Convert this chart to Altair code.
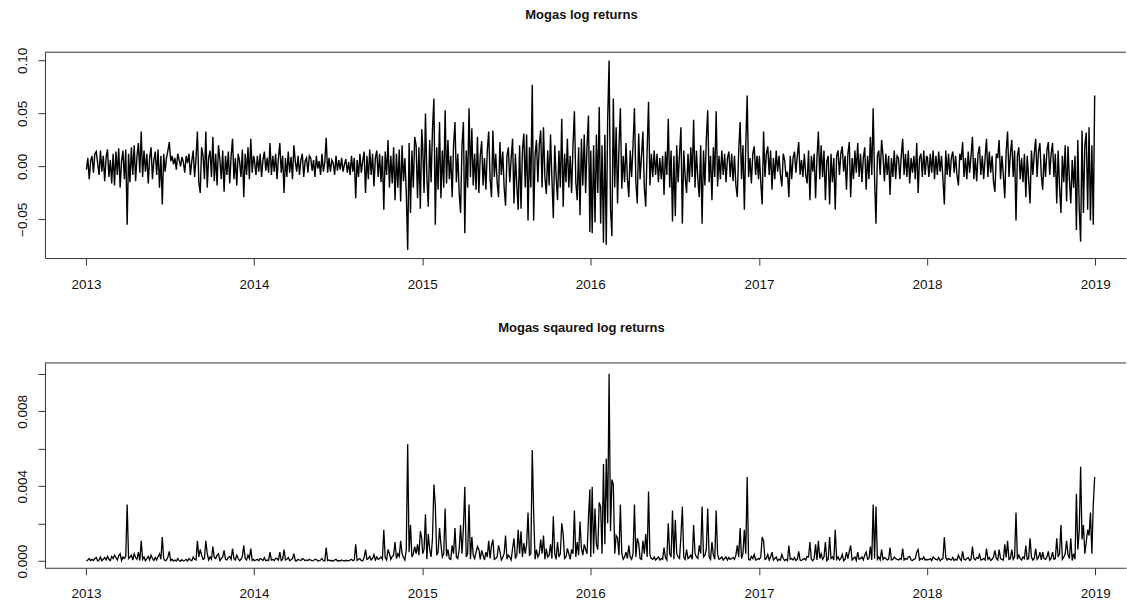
import altair as alt
import pandas as pd

# Daily Mogas log returns, in thousandths, ten readings per month
years = [2013, 2014, 2015, 2016, 2017, 2018]

r2013 = [
    -3, 8, -12, 5, 10, -6, 12, 14, 3, -8,
    15, -5, 10, -14, 8, 16, -10, 6, -16, 12,
    -18, 14, -8, 17, -20, 5, 15, -12, 16, -55,
    12, -15, 18, -8, 20, -14, 10, 22, -6, 33,
    -10, 15, -5, 12, -16, 8, 18, -12, 6, 14,
    -8, 16, -20, 10, -36, 12, -5, 8, 15, 23,
    5, 10, 2, 8, -3, 12, 6, 0, 9, 4,
    -6, 10, 3, 12, -8, 5, 15, -10, 8, 33,
    -15, -25, 18, 10, -12, 33, -20, 8, 15, -10,
    28, -14, 12, -18, 20, 6, -12, 15, -24, 10,
    -8, 14, -16, 10, 26, -12, 8, -18, 12, 5,
    -10, 16, -29, 12, -8, 18, -12, 26, -6, 10,
]
r2014 = [
    5, -8, 10, -5, 12, -10, 6, 14, -4, 8,
    -6, 22, -8, 10, -5, 12, -12, 8, 22, -6,
    10, -25, 8, -10, 14, -6, 9, -12, 20, 5,
    -5, 10, -8, 6, 12, -10, 5, 8, -6, 10,
    8, -4, 6, -10, 10, -2, 5, -8, 12, -5,
    4, 27, -6, 8, -5, 6, 3, -8, 10, -4,
    6, -3, 8, -5, 2, 7, -6, 4, -8, 10,
    -5, 8, -30, 6, -10, 12, -6, 5, 14, -25,
    10, -12, 16, -8, 12, -19, 8, 15, -10, 12,
    -15, 10, -41, 14, -8, 25, -20, 10, -16, 18,
    -32, 12, -20, 16, -33, 20, -14, 8, -25, -79,
    22, -44, 15, -20, 28, 20, -30, 18, -40, 35,
]
r2015 = [
    20, -25, 50, -10, -38, 25, -15, 35, 64, -55,
    18, -22, 42, -30, 15, -20, 53, -16, 25, -12,
    10, -29, 20, 42, -15, 12, -25, -44, 20, 42,
    -63, 15, -20, 55, -10, 36, -18, 12, -22, 28,
    -25, 10, 24, -18, 8, -22, 15, 33, -12, -29,
    34, -10, 12, -15, -29, 23, -8, 14, -20, -37,
    10, 18, -15, 8, 26, -35, 12, -18, -41, 20,
    -40, 15, 31, -20, 30, -51, 18, -20, 77, -51,
    10, 25, -15, 20, 34, -20, 37, -10, -26, 15,
    -18, 30, -12, -49, 20, -10, -32, 15, -20, 45,
    -38, 12, -15, 26, -20, 10, -25, 20, 52, -15,
    -32, 18, -46, 26, -18, 30, -25, 20, 48, -62,
]
r2016 = [
    15, -63, 20, -53, 30, -25, 56, -54, 20, -72,
    30, -74, 45, 100, -40, -66, 64, -20, 37, -35,
    18, 55, -21, 10, -15, 22, -12, -29, 15, -10,
    20, 55, -15, -35, 31, -12, 10, 33, -20, -38,
    15, 61, -18, 12, -10, 15, -8, 12, -15, 8,
    -12, 10, -27, 14, -8, 45, -20, 15, -52, 10,
    -47, 20, -15, 12, 37, -54, 15, -10, -25, 12,
    -15, 18, -10, 44, -20, 15, -12, -29, 20, -54,
    15, -18, 25, 53, -15, 10, -32, 18, -10, 52,
    -19, 10, -12, 15, -8, 12, -15, 8, 14, -10,
    12, -14, 10, -18, -29, 15, 42, -12, 20, -41,
    20, 67, -10, 8, -16, 12, 19, -8, 10, -12,
]
r2017 = [
    10, -15, -36, 33, -10, 12, 19, -8, 15, -22,
    8, -12, 15, -5, 10, -8, -19, 12, 6, -10,
    -5, -29, 10, -12, 8, 14, -6, 10, 23, -8,
    6, -10, 12, -8, -16, 15, -32, 10, -5, 12,
    -30, 8, 33, -12, 20, -10, 15, -32, 5, 10,
    -36, 12, -15, 8, -41, 10, 15, -8, 12, 19,
    -5, 10, -22, 12, 23, -29, 8, -12, 15, -6,
    22, -10, 12, -15, 8, 18, -22, 10, -12, 28,
    -8, 55, -12, -54, 10, 15, -8, 25, 10, -14,
    12, -8, 10, -27, 8, -10, 15, -12, 10, 8,
    -12, 10, 26, -8, 12, -10, 15, -16, 8, -6,
    10, -12, 22, -25, 8, 12, -10, 15, -8, 10,
]
r2018 = [
    8, -10, 12, -6, 15, -12, 10, -8, 14, -5,
    10, -12, -36, 15, -8, 12, -10, 8, 14, -6,
    10, -8, -18, 12, 6, 23, -10, 8, -12, 14,
    -6, 10, 28, -12, 8, -14, 12, 19, -8, 10,
    -12, 8, 26, -10, 14, -6, 10, -15, -24, 12,
    8, 25, -12, 10, -8, -30, 14, 33, -10, 12,
    25, -10, 15, -51, 10, 18, -12, 8, -15, 12,
    -29, 10, -12, -35, 15, -8, 12, 26, -10, 14,
    22, -8, -22, 12, -10, 15, 23, -8, 12, 22,
    -10, 12, -35, 15, -20, -44, 10, -15, 20, -33,
    19, -12, -35, 6, -20, 10, -60, 25, -40, -71,
    34, -44, 20, 32, -41, 37, -51, 20, -55, 67,
]

series = [r2013, r2014, r2015, r2016, r2017, r2018]

rows = []
for year, vals in zip(years, series):
    stamps = pd.date_range(f"{year}-01-02", f"{year}-12-31", periods=len(vals))
    for ts, v in zip(stamps, vals):
        r = v / 1000.0
        rows.append({"date": ts.strftime("%Y-%m-%dT%H:%M:%SZ"), "ret": r, "sq": r * r})
df = pd.DataFrame(rows)

W = 1082
FONT = "Liberation Sans"
FRAME = "#333333"
TEXT = "#111111"

x_domain = [
    alt.DateTime(year=2012, month=10, date=4, utc=True),
    alt.DateTime(year=2019, month=3, date=9, utc=True),
]
year_ticks = [alt.DateTime(year=y, month=1, date=1, utc=True) for y in range(2013, 2020)]


def x_enc():
    return alt.X(
        "date:T",
        title=None,
        scale=alt.Scale(type="utc", domain=x_domain),
        axis=alt.Axis(
            values=year_ticks, format="%Y", grid=False, tickSize=7, labelPadding=12,
            labelFlush=False, labelOverlap=False, minExtent=40, maxExtent=40,
        ),
    )


def y_axis(**kw):
    return alt.Axis(
        grid=False, tickSize=7, labelPadding=11, labelAngle=270,
        labelAlign="center", labelBaseline="alphabetic",
        minExtent=45, maxExtent=45, labelOverlap=False, **kw,
    )


def top_edge():
    return alt.Chart(pd.DataFrame({"edge": ["top"]})).mark_rule(
        color=FRAME, strokeWidth=1
    ).encode(x=alt.value(0), x2=alt.value(W), y=alt.value(0))


def panel_title(text, offset):
    return alt.TitleParams(
        text, font=FONT, fontSize=13, fontWeight="bold", color=TEXT,
        anchor="middle", frame="group", offset=offset, dx=-4,
    )


top_line = alt.Chart(df).mark_line(color="black", strokeWidth=1.4).encode(
    x=x_enc(),
    y=alt.Y(
        "ret:Q", title=None,
        scale=alt.Scale(domain=[-0.0865, 0.1078], nice=False, zero=False),
        axis=y_axis(values=[-0.05, 0, 0.05, 0.1], format=".2f"),
    ),
)
top = alt.layer(top_line, top_edge()).properties(
    width=W, height=206, title=panel_title("Mogas log returns", 25)
)

bottom_line = alt.Chart(df).mark_line(color="black", strokeWidth=1.3).encode(
    x=x_enc(),
    y=alt.Y(
        "sq:Q", title=None,
        scale=alt.Scale(domain=[-0.00035, 0.01058], nice=False, zero=False),
        axis=y_axis(
            values=[0, 0.002, 0.004, 0.006, 0.008, 0.010],
            labelExpr="(abs(datum.value) < 1e-9 || abs(datum.value - 0.004) < 1e-9 || abs(datum.value - 0.008) < 1e-9) ? format(datum.value, '.3f') : ''",
        ),
    ),
)
bottom = alt.layer(bottom_line, top_edge()).properties(
    width=W, height=205, title=panel_title("Mogas sqaured log returns", 27)
)

chart = (
    alt.vconcat(top, bottom, spacing=24)
    .properties(padding={"left": 0, "top": 9, "right": 0, "bottom": 0}, background="white")
    .configure_view(stroke=None)
    .configure_axis(
        labelFont=FONT, labelFontSize=13.5, labelColor=TEXT,
        domainColor=FRAME, tickColor=FRAME, domainWidth=1, tickWidth=1,
    )
)

chart.save("out.html", embed_options={"renderer": "svg", "actions": False})
